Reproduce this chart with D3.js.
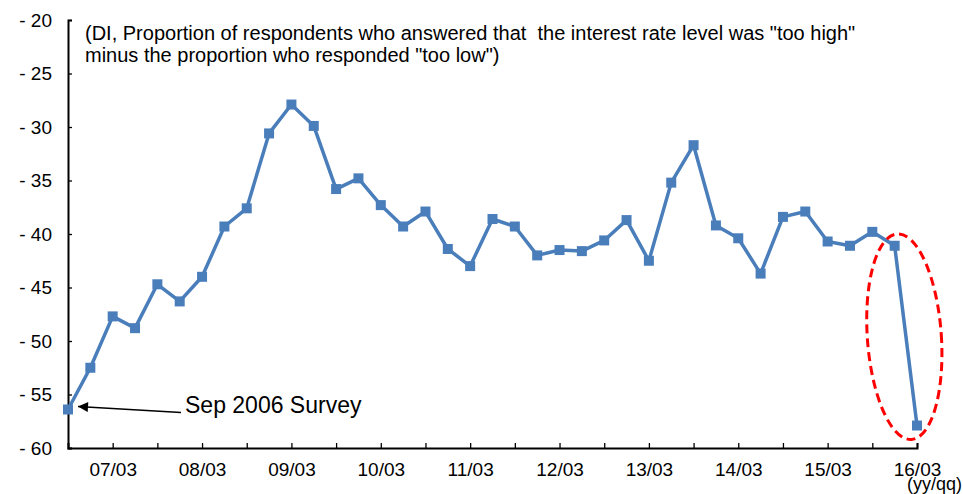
<!DOCTYPE html>
<html lang="en">
  <head>
    <meta charset="utf-8">
    <title>Interest rate level DI</title>
    <script src="https://cdn.jsdelivr.net/npm/d3@7"></script>
    <style>
      body { margin: 0; background: #fff; overflow: hidden; }
      text { font-family: "Liberation Sans", Arial, sans-serif; fill: #000; }
    </style>
  </head>
  <body>
    <script type="text/javascript">

      // survey quarters, yy/mm
      var quarters = ["06/09","06/12","07/03","07/06","07/09","07/12","08/03","08/06","08/09","08/12",
                      "09/03","09/06","09/09","09/12","10/03","10/06","10/09","10/12","11/03","11/06",
                      "11/09","11/12","12/03","12/06","12/09","12/12","13/03","13/06","13/09","13/12",
                      "14/03","14/06","14/09","14/12","15/03","15/06","15/09","15/12","16/03"];

      // DI values
      var diValues = [-56.4,-52.5,-47.7,-48.8,-44.7,-46.3,-44.0,-39.3,-37.6,-30.6,
                      -27.9,-29.9,-35.8,-34.8,-37.3,-39.3,-37.9,-41.4,-43.0,-38.6,
                      -39.3,-42.0,-41.5,-41.6,-40.6,-38.7,-42.5,-35.2,-31.7,-39.2,
                      -40.4,-43.7,-38.4,-37.9,-40.7,-41.1,-39.8,-41.1,-57.9];

      var yTicks = [-60,-55,-50,-45,-40,-35,-30,-25,-20];
      var yearLabels = ["07/03","08/03","09/03","10/03","11/03","12/03","13/03","14/03","15/03","16/03"];

      var w = 963, h = 494;
      var margin = {left: 68, right: 46, top: 20, bottom: 46};

      var svg = d3.select("body").append("svg")
          .attr("width", w)
          .attr("height", h);

      var x = d3.scaleLinear()
          .domain([0, quarters.length - 1])
          .range([margin.left, w - margin.right]);

      var y = d3.scaleLinear()
          .domain([-60, -20])
          .range([h - margin.bottom, margin.top]);

      // x axis: ticks every half year, labels on March
      var xTickIdx = [];
      quarters.forEach(function(q, i) { if (i >= 2 && i % 2 === 0) xTickIdx.push(i); });

      var xAxis = d3.axisBottom(x)
          .tickValues(xTickIdx)
          .tickSize(-5)
          .tickPadding(15)
          .tickFormat(function(i) {
            return yearLabels.indexOf(quarters[i]) >= 0 ? quarters[i] : "";
          });

      var gx = svg.append("g")
          .attr("transform", "translate(0," + y(-60) + ")")
          .call(xAxis);
      gx.select(".domain").attr("stroke", "#000").attr("stroke-width", 2);
      gx.selectAll(".tick line").attr("stroke", "#000").attr("stroke-width", 1.3);
      gx.selectAll(".tick text").style("font-size", "19px")
          .style("font-family", "'Liberation Sans', Arial, sans-serif");

      var yAxis = d3.axisLeft(y)
          .tickValues(yTicks)
          .tickSize(-4)
          .tickPadding(16)
          .tickFormat(function(d) { return "- " + Math.abs(d); });

      var gy = svg.append("g")
          .attr("transform", "translate(" + x(0) + ",0)")
          .call(yAxis);
      gy.select(".domain").attr("stroke", "#000").attr("stroke-width", 2);
      gy.selectAll(".tick line").attr("stroke", "#000").attr("stroke-width", 1.3);
      gy.selectAll(".tick text").style("font-size", "19px")
          .style("font-family", "'Liberation Sans', Arial, sans-serif");

      svg.append("text")
          .attr("x", 907)
          .attr("y", 490)
          .style("font-size", "18px")
          .text("(yy/qq)");

      // note
      svg.append("text")
          .attr("x", 85)
          .attr("y", 40)
          .attr("xml:space", "preserve")
          .style("font-size", "20px")
          .style("white-space", "pre")
          .text("(DI, Proportion of respondents who answered that  the interest rate level was \"too high\"");
      svg.append("text")
          .attr("x", 85)
          .attr("y", 62)
          .style("font-size", "20px")
          .text("minus the proportion who responded \"too low\")");

      // line + markers
      var line = d3.line()
          .x(function(d, i) { return x(i); })
          .y(function(d) { return y(d); });

      svg.append("path")
          .datum(diValues)
          .attr("fill", "none")
          .attr("stroke", "#4A7EBB")
          .attr("stroke-width", 3.5)
          .attr("stroke-linejoin", "round")
          .attr("d", line);

      svg.selectAll(".pt")
          .data(diValues)
          .enter().append("rect")
          .attr("class", "pt")
          .attr("x", function(d, i) { return x(i) - 5; })
          .attr("y", function(d) { return y(d) - 5; })
          .attr("width", 10)
          .attr("height", 10)
          .attr("fill", "#4A7EBB");

      // red dashed ellipse round the last drop
      var n = diValues.length;
      var ex = (x(n - 2) + x(n - 1)) / 2 - 1.5, ey = y(-49.6);
      svg.append("ellipse")
          .attr("cx", ex)
          .attr("cy", ey)
          .attr("rx", 37)
          .attr("ry", 103)
          .attr("transform", "rotate(-4," + ex + "," + ey + ")")
          .attr("fill", "none")
          .attr("stroke", "#FF0000")
          .attr("stroke-width", 3)
          .attr("stroke-dasharray", "9,5");

      // Sep 2006 annotation
      svg.append("defs").append("marker")
          .attr("id", "arr")
          .attr("viewBox", "0 0 10 10")
          .attr("refX", 10).attr("refY", 5)
          .attr("markerWidth", 11).attr("markerHeight", 10)
          .attr("markerUnits", "userSpaceOnUse")
          .attr("orient", "auto")
          .append("path")
          .attr("d", "M0,0 L10,5 L0,10 Z")
          .attr("fill", "#000");

      svg.append("line")
          .attr("x1", 181).attr("y1", y(diValues[0]) + 3)
          .attr("x2", x(0) + 10).attr("y2", y(diValues[0]) - 3)
          .attr("stroke", "#000")
          .attr("stroke-width", 1.3)
          .attr("marker-end", "url(#arr)");

      svg.append("text")
          .attr("x", 185)
          .attr("y", 413)
          .style("font-size", "23px")
          .text("Sep 2006 Survey");

    </script>
  </body>
</html>
